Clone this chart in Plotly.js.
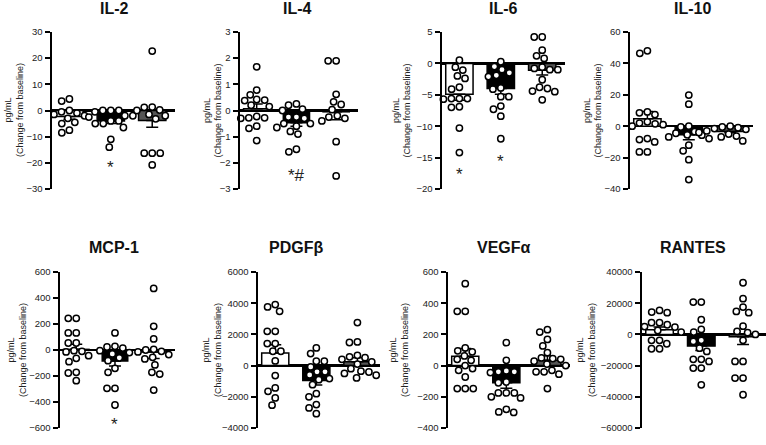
<!DOCTYPE html>
<html><head><meta charset="utf-8">
<script src="https://cdn.plot.ly/plotly-3.0.1.min.js"></script>
<style>html,body{margin:0;padding:0;background:#fff}#chart{width:766px;height:445px}</style>
</head><body><div id="chart"></div>
<script>
const panelNames = ["IL-2","IL-4","IL-6","IL-10","MCP-1","PDGFβ","VEGFα","RANTES"];
const yTickMin = [-30,-3,-20,-40,-600,-4000,-400,-60000];
const yTickMax = [30,3,5,60,600,6000,600,40000];
const yTickStep = [10,1,5,20,200,2000,200,20000];
const yTitle = "pg/mL<br>(Change from baseline)";

// individual values (change from baseline), three groups per panel
const il2_a = [4.4, 3.6, 0, -0.5, -1, -1.5, -2, -3, -3.5, -5, -4.5, -8.5, -7.5];
const il2_b = [0, 0, 0, -0.5, -2, -2.5, -2, -4, -4, -5, -5, -6.5, -11, -14];
const il2_c = [22.7, 1.3, 1.2, 0.2, 0, -1.5, -2, -3.2, -16.3, -16.3, -16.3, -20.8];
const il4_a = [1.67, 0.78, 0.6, 0.4, 0.38, 0.42, 0.2, 0.15, -0.28, -0.28, -0.3, -0.23, -0.6, -0.68, -1.15];
const il4_b = [0.25, 0.2, 0.0, 0.05, -0.25, -0.3, -0.25, -0.5, -0.5, -0.65, -0.8, -0.9, -0.6, -1.58, -1.48];
const il4_c = [1.9, 1.9, 0.62, 0.33, 0.23, 0.03, -0.2, -0.3, -0.25, -0.4, -1.19, -2.5];
const il6_a = [0.5, -0.6, -1.06, -2, -2.4, -3.8, -4.1, -5.7, -5.6, -5.6, -5.6, -7, -6.9, -10.3, -14.2];
const il6_b = [0.26, -0.5, -1, -1.9, -2.1, -1.5, -3.9, -4.1, -5.3, -5.3, -6.8, -7.3, -8.4, -12];
const il6_c = [4.2, 4.2, 2.1, 1.2, 0.8, -1, -1, -0.8, -0.6, -2.6, -3.8, -4.4, -4, -4.5, -5.8];
const il10_a = [48, 46.4, 9.1, 8.5, 7.4, 2.8, 2, 1.5, 1, 0, -8.5, -10, -7.9, -16.4, -16.4];
const il10_b = [19.8, 14, 0, -0.5, -3.5, -4.5, -5.5, -5.7, -6.8, -7.9, -12.1, -15.7, -21.3, -34];
const il10_c = [0, -0.5, -1, -1.5, -2, -3, -3.5, -3.5, -4, -4.5, -5, -6.3, -6.8, -9.4];
const mcp_a = [244, 244, 131, 131, 54, 54, -5, -10, -15, -64, -90, -44, -172, -177, -236];
const mcp_b = [131, 28, 23, 15, -5, -20, -30, -60, -82, -141, -172, -295, -295, -423];
const mcp_c = [474, 182, 85, 5, 0, -10, -15, -35, -56, -69, -115, -172, -185, -308];
const pdgf_a = [3910, 3760, 3480, 2200, 2200, 1410, 1410, 920, 920, 300, -640, -1430, -1650, -2070, -2540];
const pdgf_b = [1130, 770, 280, 280, -85, -400, -400, -600, -830, -900, -1220, -1800, -2000, -2500, -2710, -3080];
const pdgf_c = [2760, 1520, 1480, 660, 560, 510, 400, 230, 100, -200, -360, -410, -620, -790, -500];
const vegf_a = [525, 348, 348, 113, 95, 88, 62, 40, 34, 0, -19, -30, -73, -147, -147, -147];
const vegf_b = [147, 34, -34, -40, -40, -45, -105, -110, -175, -175, -175, -207, -200, -280, -300, -297];
const vegf_c = [230, 215, 168, 126, 83, 49, 45, 40, 28, 10, 0, -30, -40, -40, -55, -147];
const rantes_a = [15400, 14300, 13900, 7500, 7500, 6200, 5000, 4700, 3200, 2500, 1500, -3800, -3800, -6000, -9200, -9200];
const rantes_b = [20700, 20700, 9400, 3200, 1500, -3800, -4500, -8800, -10900, -16000, -16000, -17300, -21600, -21600, -32300];
const rantes_c = [33100, 22900, 17500, 14700, 13900, 5300, 1900, 1100, 0, -3800, -17300, -17300, -28000, -28000, -38700];

// bar means and SEM
const il2_mean = [-2.3, -4.0, -3.8],   il2_sem = [1.0, 1.0, 2.6];
const il4_mean = [0.07, -0.47, -0.05], il4_sem = [0.18, 0.13, 0.3];
const il6_mean = [-4.9, -4.0, -1.1],   il6_sem = [0.95, 0.9, 0.75];
const il10_mean = [4.8, -5.5, -3.3],   il10_sem = [4.5, 3.2, 0.8];
const mcp_mean = [5, -85, -15],        mcp_sem = [40, 38, 50];
const pdgf_mean = [812, -950, 250],    pdgf_sem = [530, 300, 250];
const vegf_mean = [60, -110, 35],      vegf_sem = [50, 35, 28];
const rantes_mean = [3000, -7500, -1500], rantes_sem = [1800, 2800, 5000];

// significance marks
const sigText = [["","*",""],["","*#",""],["*","*",""],["","",""],["","*",""],["","*#",""],["","*#",""],["","",""]];
const sigY = [[0,-21.8,0],[0,-2.5,0],[-17.7,-15.6,0],[0,0,0],[0,-575,0],[0,-4600,0],[0,-450,0],[0,0,0]];

const groups = [[il2_a,il2_b,il2_c],[il4_a,il4_b,il4_c],[il6_a,il6_b,il6_c],[il10_a,il10_b,il10_c],
                [mcp_a,mcp_b,mcp_c],[pdgf_a,pdgf_b,pdgf_c],[vegf_a,vegf_b,vegf_c],[rantes_a,rantes_b,rantes_c]];
const means = [il2_mean,il4_mean,il6_mean,il10_mean,mcp_mean,pdgf_mean,vegf_mean,rantes_mean];
const sems = [il2_sem,il4_sem,il6_sem,il10_sem,mcp_sem,pdgf_sem,vegf_sem,rantes_sem];

// ---- layout geometry (pixels) ----
const W = 766, H = 445;
const axisLeft = [52, 240, 442, 630, 60, 258, 448, 642];
const axisRight = [175, 358, 565, 753, 175, 380, 570, 766];
const rowTop = [32, 272], rowBot = [189, 428];
const titleX = [114, 297, 503, 692, 114, 296, 504, 693];
const titleY = [9, 247];
const ytitleX = [13.5, 212, 401, 592, 17, 212, 399, 586];
const XR = [-0.42, 2.55];
const barColors = ["#ffffff", "#000000", "#555555"];
const FONT = "Liberation Sans, Arial, sans-serif";

function swarm(vals, pxPerY, d) {
  const idx = vals.map((v, i) => i).sort((a, b) => vals[b] - vals[a]);
  const placed = [];
  const xs = new Array(vals.length);
  for (const i of idx) {
    const y = vals[i] * pxPerY;
    const iv = [];
    for (const p of placed) {
      const dy = Math.abs(p.y - y);
      if (dy < d) { const w = Math.sqrt(d * d - dy * dy); iv.push([p.x - w, p.x + w]); }
    }
    const cands = [0];
    iv.forEach(v => cands.push(v[0], v[1]));
    cands.sort((a, b) => Math.abs(a) - Math.abs(b));
    let best = 0;
    for (const c of cands) {
      if (iv.every(v => c <= v[0] + 1e-6 || c >= v[1] - 1e-6)) { best = c; break; }
    }
    xs[i] = best; placed.push({ x: best, y });
  }
  return xs;
}

const traces = [];
const layout = {
  width: W, height: H, margin: { l: 0, r: 0, t: 0, b: 0 },
  paper_bgcolor: "#fff", plot_bgcolor: "rgba(0,0,0,0)", showlegend: false,
  font: { family: FONT, color: "#222" }, annotations: []
};

for (let p = 0; p < 8; p++) {
  const row = p < 4 ? 0 : 1;
  const sfx = p === 0 ? "" : String(p + 1);
  const xa = "x" + sfx, ya = "y" + sfx;
  const pxPerX = (axisRight[p] - axisLeft[p]) / (XR[1] - XR[0]);
  const pxPerY = (rowBot[row] - rowTop[row]) / (yTickMax[p] - yTickMin[p]);

  layout["xaxis" + sfx] = {
    domain: [axisLeft[p] / W, axisRight[p] / W], range: XR, visible: false,
    anchor: ya, fixedrange: true
  };
  layout["yaxis" + sfx] = {
    domain: [1 - rowBot[row] / H, 1 - rowTop[row] / H], range: [yTickMin[p], yTickMax[p]],
    anchor: xa, showline: true, linecolor: "#000", linewidth: 2.5,
    ticks: "outside", ticklen: 5, tickwidth: 2, tickcolor: "#000",
    tick0: yTickMin[p], dtick: yTickStep[p], tickformat: "d", showgrid: false,
    zeroline: true, zerolinecolor: "#000", zerolinewidth: 2.5,
    tickfont: { family: FONT, size: 9.5, color: "#222" }, fixedrange: true
  };

  const m = means[p], s = sems[p];
  traces.push({
    type: "bar", x: [0, 1, 2], y: m, xaxis: xa, yaxis: ya, width: 0.66,
    marker: { color: barColors, line: { color: "#000", width: 1.5 } },
    error_y: {
      type: "data", symmetric: false,
      array: m.map((v, i) => v >= 0 ? s[i] : 0),
      arrayminus: m.map((v, i) => v < 0 ? s[i] : 0),
      color: "#000", thickness: 1.5, width: 6
    },
    hoverinfo: "skip"
  });

  for (let g = 0; g < 3; g++) {
    const vals = groups[p][g];
    const off = swarm(vals, pxPerY, 8);
    traces.push({
      type: "scatter", mode: "markers", xaxis: xa, yaxis: ya,
      x: off.map(o => g + o / pxPerX), y: vals, cliponaxis: false,
      marker: { size: 6.3, color: "#fff", line: { color: "#000", width: 1.5 } },
      hoverinfo: "y"
    });
    if (sigText[p][g]) {
      layout.annotations.push({
        xref: xa, yref: ya, x: g, y: sigY[p][g], text: sigText[p][g],
        showarrow: false, font: { family: FONT, size: 17, color: "#222" },
        xanchor: "center", yanchor: "middle"
      });
    }
  }

  layout.annotations.push({
    xref: "paper", yref: "paper", x: titleX[p] / W, y: 1 - titleY[row] / H,
    text: "<b>" + panelNames[p] + "</b>", showarrow: false,
    font: { family: FONT, size: 16, color: "#111" }, xanchor: "center", yanchor: "middle"
  });
  layout.annotations.push({
    xref: "paper", yref: "paper", x: ytitleX[p] / W,
    y: 1 - ((rowTop[row] + rowBot[row]) / 2) / H,
    text: yTitle, showarrow: false, textangle: -90,
    font: { family: FONT, size: 9, color: "#222" }, xanchor: "center", yanchor: "middle"
  });
}

Plotly.newPlot("chart", traces, layout, { displayModeBar: false, staticPlot: true });
</script>
</body></html>
